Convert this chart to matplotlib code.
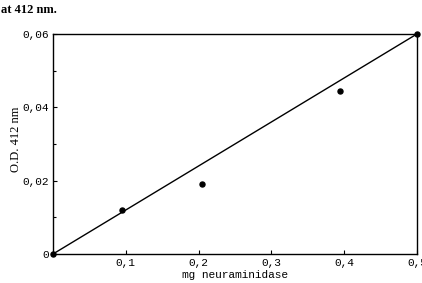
import matplotlib
matplotlib.use('Agg')
import matplotlib.pyplot as plt

# measured points
mg = [0.0, 0.095, 0.205, 0.394, 0.5]
od = [0.0, 0.012, 0.019, 0.0445, 0.06]

# fitted line
fit_x = [0.0, 0.5]
fit_y = [0.0, 0.06]

xticks = [0.1, 0.2, 0.3, 0.4, 0.5]
xlabels = ['0,1', '0,2', '0,3', '0,4', '0,5']
yticks = [0.0, 0.02, 0.04, 0.06]
ylabels = ['0', '0,02', '0,04', '0,06']
yminor = [0.01, 0.03, 0.05]

mono = ['Liberation Mono', 'DejaVu Sans Mono']
plt.rcParams['font.family'] = ['Liberation Serif', 'DejaVu Serif']

fig = plt.figure(figsize=(4.22, 2.83), dpi=100)
ax = fig.add_axes([0.1256, 0.1025, 0.8624, 0.7774])

ax.plot(fit_x, fit_y, color='black', lw=1.0)
ax.plot(mg, od, 'o', color='black', ms=3.6, clip_on=False)

ax.set_xlim(0, 0.5)
ax.set_ylim(0, 0.06)
ax.set_xticks(xticks)
ax.set_xticklabels(xlabels, fontsize=8, family=mono)
ax.set_yticks(yticks)
ax.set_yticklabels(ylabels, fontsize=8, family=mono)
ax.set_yticks(yminor, minor=True)
ax.tick_params(direction='in', length=3, width=0.8, pad=3)
ax.tick_params(which='minor', direction='in', length=2, width=0.8)
for s in ax.spines.values():
    s.set_linewidth(1.0)

ax.set_xlabel('mg neuraminidase', fontsize=8, family=mono)
ax.xaxis.set_label_coords(0.5, -0.075)
ax.set_ylabel('O.D. 412 nm', fontsize=9)
ax.yaxis.set_label_coords(-0.085, 0.52)
fig.text(0.002, 0.955, 'at 412 nm.', fontsize=9, fontweight='bold')

fig.savefig('out.png', dpi=100)
